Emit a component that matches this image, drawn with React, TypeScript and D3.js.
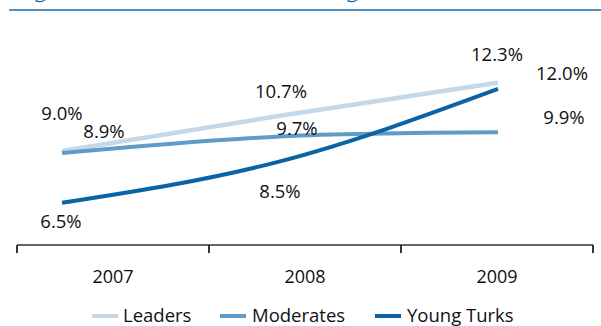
import React from "react";
import * as d3 from "d3";

const years = ["2007", "2008", "2009"];
const seriesNames = ["Leaders", "Moderates", "Young Turks"];
const leaders = [9.0, 10.7, 12.3];
const moderates = [8.9, 9.7, 9.9];
const youngTurks = [6.5, 8.5, 12.0];
const labelText = [
  ["9.0%", "10.7%", "12.3%"],
  ["8.9%", "9.7%", "9.9%"],
  ["6.5%", "8.5%", "12.0%"],
];

const colors = ["#c3d9ea", "#609cc8", "#0963a4"];
const widths = [4.5, 4, 4];
// label offsets relative to each point (centre x, baseline)
const labelOffsets = [
  [[0, -31], [1, -18], [-1, -22]],
  [[42, -15], [17, -1.5], [66, -8]],
  [[-1, 25], [0, 37], [64, -9]],
];

const W = 601;
const H = 326;
const FONT = "'Open Sans', 'Noto Sans', sans-serif";

export default function App() {
  const series = [leaders, moderates, youngTurks];
  const xBand = d3.scaleBand().domain(years).range([17, 593]);
  const xPt = d3.scalePoint().domain(years).range([62, 498]);
  const y = d3.scaleLinear().domain([6, 13]).range([213.1, 68.2]);
  const line = d3
    .line<number>()
    .x((_, i) => xPt(years[i]) as number)
    .y((d) => y(d))
    .curve(d3.curveNatural);

  const axisY = 245;
  const ticks = [...years.map((yr) => xBand(yr) as number), 593];

  const legendItems = [
    { sx: 92, tx: 123 },
    { sx: 220, tx: 252 },
    { sx: 375, tx: 407 },
  ];

  return (
    <svg
      width={W}
      height={H}
      style={{ position: "absolute", left: 0, top: 0, background: "#fff" }}
    >
      {/* clipped title remnants */}
      <path d="M35,1 Q40,4 46,0 L44,0 Q40,2 36,0 Z" fill="#0963a4" />
      <path d="M347,1 Q352,4 358,0 L356,0 Q352,2 348,0 Z" fill="#0963a4" />
      <line x1={9} x2={W} y1={10} y2={10} stroke="#1c6aa8" strokeWidth={1.6} />

      {series.map((s, i) => (
        <path
          key={i}
          d={line(s) as string}
          fill="none"
          stroke={colors[i]}
          strokeWidth={widths[i]}
        />
      ))}

      {series.map((s, i) =>
        s.map((v, j) => (
          <text
            key={`${i}-${j}`}
            x={(xPt(years[j]) as number) + labelOffsets[i][j][0]}
            y={y(v) + labelOffsets[i][j][1]}
            textAnchor="middle"
            fontFamily={FONT}
            fontSize={18.5}
            fill="#111"
          >
            {labelText[i][j]}
          </text>
        ))
      )}

      <line x1={17} x2={593} y1={axisY} y2={axisY} stroke="#333" strokeWidth={1.6} />
      {ticks.map((t, i) => (
        <line key={i} x1={t} x2={t} y1={axisY} y2={axisY + 8} stroke="#222" strokeWidth={1.8} />
      ))}
      {years.map((yr) => (
        <text
          key={yr}
          x={(xBand(yr) as number) + xBand.bandwidth() / 2}
          y={283}
          textAnchor="middle"
          fontFamily={FONT}
          fontSize={18}
          fill="#111"
        >
          {yr}
        </text>
      ))}

      {seriesNames.map((n, i) => (
        <g key={n}>
          <line
            x1={legendItems[i].sx}
            x2={legendItems[i].sx + 26}
            y1={316}
            y2={316}
            stroke={colors[i]}
            strokeWidth={4}
          />
          <text x={legendItems[i].tx} y={322} fontFamily={FONT} fontSize={18.5} fill="#111">
            {n}
          </text>
        </g>
      ))}
    </svg>
  );
}
